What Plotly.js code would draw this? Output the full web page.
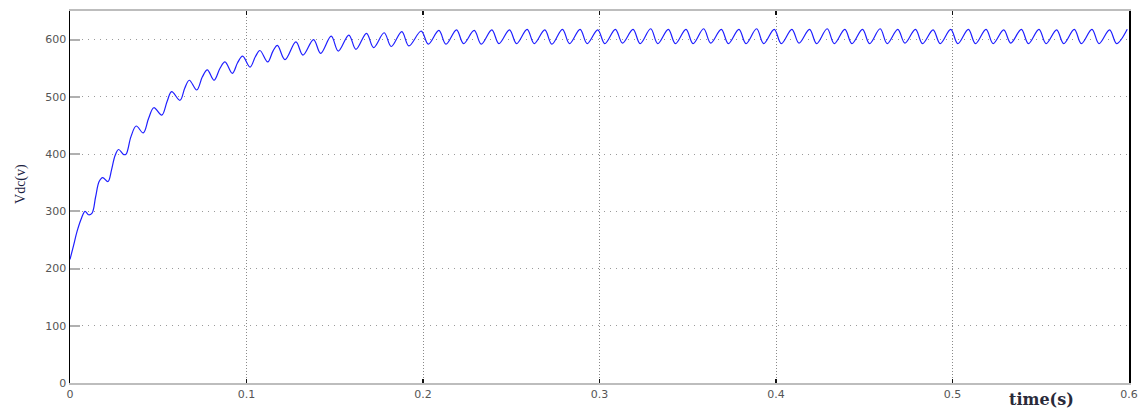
<!DOCTYPE html>
<html>
<head>
<meta charset="utf-8">
<script src="https://cdn.plot.ly/plotly-3.0.1.min.js"></script>
<style>html,body{margin:0;padding:0;background:#fff;}#chart{width:1143px;height:411px;}</style>
</head>
<body>
<div id="chart"></div>
<script>
// time (s) and DC-link voltage Vdc (V)
const timeS = [
  0, 0.002, 0.004, 0.0065, 0.0085, 0.0105, 0.0125, 0.0145, 0.0165, 0.0185,
  0.0215, 0.0235, 0.0255, 0.0275, 0.0305, 0.0318, 0.0345, 0.0375, 0.0415, 0.0445,
  0.0475, 0.052, 0.055, 0.0576, 0.0623, 0.065, 0.0676, 0.0718, 0.075, 0.0778,
  0.0816, 0.085, 0.0878, 0.092, 0.095, 0.0978, 0.102, 0.105, 0.1076, 0.112,
  0.115, 0.1175, 0.1218, 0.128, 0.132, 0.138, 0.142, 0.148, 0.152, 0.158,
  0.162, 0.168, 0.172, 0.178, 0.182, 0.188, 0.192, 0.199, 0.203,
  0.209, 0.213, 0.219, 0.223, 0.229, 0.233, 0.239, 0.243, 0.249, 0.253,
  0.259, 0.263, 0.269, 0.273, 0.279, 0.283, 0.289, 0.293, 0.299, 0.303,
  0.309, 0.313, 0.319, 0.323, 0.329, 0.333, 0.339, 0.343, 0.349, 0.353,
  0.359, 0.363, 0.369, 0.373, 0.379, 0.383, 0.389, 0.393, 0.399, 0.403,
  0.409, 0.413, 0.419, 0.423, 0.429, 0.433, 0.439, 0.443, 0.449, 0.453,
  0.459, 0.463, 0.469, 0.473, 0.479, 0.483, 0.489, 0.493, 0.499, 0.503,
  0.509, 0.513, 0.519, 0.523, 0.529, 0.533, 0.539, 0.543, 0.549, 0.553,
  0.559, 0.563, 0.569, 0.573, 0.579, 0.583, 0.589, 0.593, 0.599
];
const vdc = [
  216, 240, 265, 288, 300, 294, 297, 325, 352, 359,
  352, 372, 397, 408, 399, 400, 430, 449, 437, 462,
  481, 468, 492, 509, 494, 515, 529, 512, 535, 547,
  529, 550, 561, 541, 560, 571, 552, 570, 581, 561,
  580, 590, 565, 596, 573, 600, 576, 606, 580, 608,
  583, 611, 586, 612, 588, 614, 589, 615, 592,
  616, 592, 617, 593, 616, 592, 617, 593, 617, 593,
  618, 593, 617, 592, 618, 593, 618, 593, 617, 593,
  618, 594, 618, 593, 619, 593, 618, 593, 618, 593,
  619, 594, 618, 593, 618, 593, 619, 593, 618, 593,
  618, 594, 618, 593, 619, 593, 618, 593, 618, 593,
  619, 593, 618, 594, 618, 593, 617, 593, 618, 593,
  618, 593, 618, 593, 617, 594, 618, 593, 618, 593,
  617, 593, 618, 593, 618, 593, 617, 593, 618
];
const xTicks = [0, 0.1, 0.2, 0.3, 0.4, 0.5, 0.6];
const xTickText = ['0', '0.1', '0.2', '0.3', '0.4', '0.5', '0.6'];
const yTicks = [0, 100, 200, 300, 400, 500, 600];
const yTickText = ['0', '100', '200', '300', '400', '500', '600'];

const trace = {
  x: timeS, y: vdc, type: 'scatter', mode: 'lines',
  line: {color: '#1f1fff', width: 1.2, shape: 'spline', smoothing: 1},
  hoverinfo: 'skip'
};

const tickFont = {family: 'DejaVu Sans', size: 11, color: '#555'};

const layout = {
  width: 1143, height: 411,
  margin: {l: 70, r: 14, t: 11, b: 28},
  paper_bgcolor: '#fff', plot_bgcolor: '#fff',
  showlegend: false,
  xaxis: {
    range: [0, 0.6], tickvals: xTicks, ticktext: xTickText,
    showline: true, linecolor: '#bdbdbd', linewidth: 2, mirror: 'ticks',
    ticks: 'inside', ticklen: 4, tickwidth: 1.5, tickcolor: '#111',
    showgrid: true, gridcolor: '#8a8a8a', gridwidth: 1, griddash: '1px,2px',
    zeroline: false, tickfont: tickFont
  },
  yaxis: {
    range: [0, 650], tickvals: yTicks, ticktext: yTickText,
    showline: true, linecolor: '#000', linewidth: 1.5, mirror: true,
    ticks: 'inside', ticklen: 10, tickwidth: 2, tickcolor: '#b0b0b0',
    showgrid: true, gridcolor: '#9a9a9a', gridwidth: 1, griddash: '1px,5px',
    zeroline: false, tickfont: tickFont
  },
  annotations: [
    {text: 'Vdc(v)', xref: 'paper', yref: 'paper', x: 0, y: 0.535, xshift: -49,
     xanchor: 'center', yanchor: 'middle', textangle: -90, showarrow: false,
     font: {family: 'Liberation Serif', size: 14, color: '#1a2040'}},
    {text: '<b>time(s)</b>', xref: 'paper', yref: 'paper', x: 0.917, y: 0, yshift: -16,
     xanchor: 'center', yanchor: 'middle', showarrow: false,
     font: {family: 'DejaVu Serif', size: 16, color: '#2a2a3a'}}
  ]
};

Plotly.newPlot('chart', [trace], layout, {staticPlot: true, displayModeBar: false});
</script>
</body>
</html>
